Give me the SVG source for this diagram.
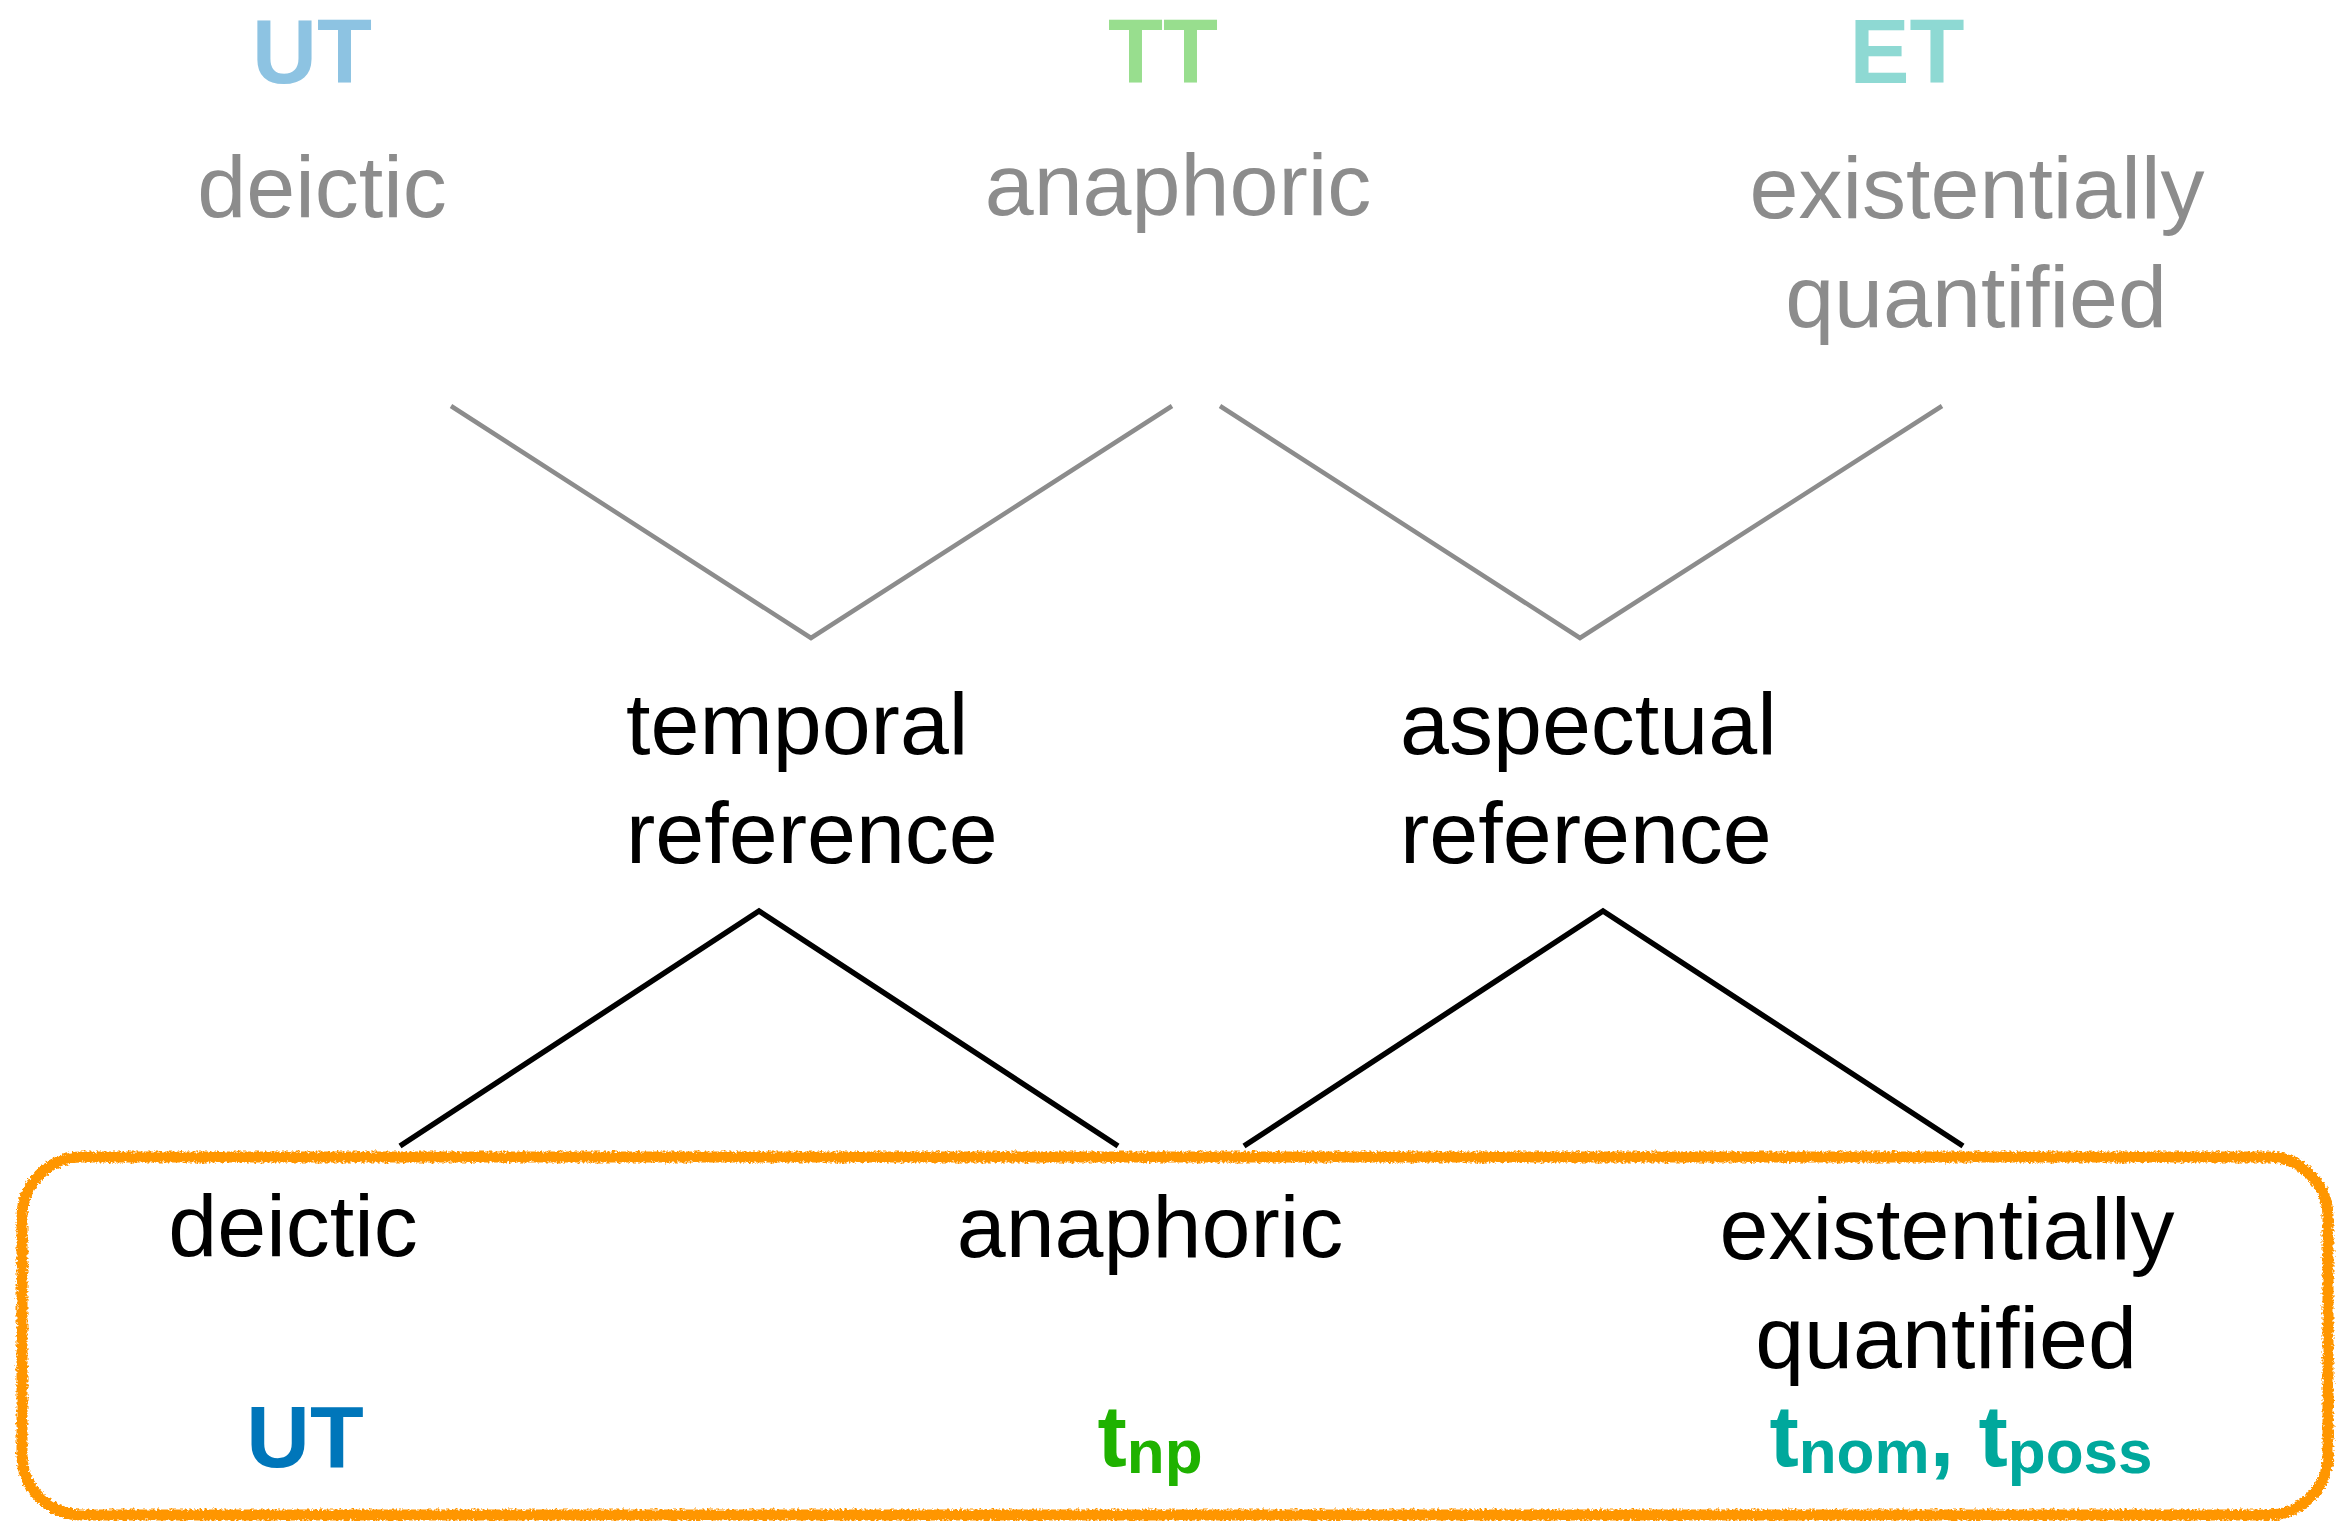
<svg xmlns="http://www.w3.org/2000/svg" width="2337" height="1521" viewBox="0 0 2337 1521">
<defs>
<style>
text{font-family:"Liberation Sans",Arial,Helvetica,sans-serif;font-size:88px}
.top{font-weight:bold;font-size:90px;text-anchor:middle}
.gray{fill:#8c8c8c;text-anchor:middle}
.blk{fill:#000}
.mid{text-anchor:middle}
.sym{font-weight:bold;text-anchor:middle}
.sub{font-size:62px}
.gl{stroke:#8c8c8c;stroke-width:4.5;fill:none;stroke-linejoin:miter}
.bl{stroke:#000;stroke-width:5.5;fill:none}
</style>
<filter id="rough" x="-2%" y="-5%" width="104%" height="110%">
<feTurbulence type="fractalNoise" baseFrequency="0.4" numOctaves="2" seed="3" result="n"/>
<feDisplacementMap in="SourceGraphic" in2="n" scale="6" xChannelSelector="R" yChannelSelector="G"/>
</filter>
</defs>
<rect width="2337" height="1521" fill="#fff"/>

<g id="connectors">
<polyline class="gl" points="451,406 811,638 1172,406"/>
<polyline class="gl" points="1220,406 1580,638 1942,406"/>
<polyline class="bl" points="400,1146 759,911 1118,1146"/>
<polyline class="bl" points="1244,1146 1603,911 1963,1146"/>
</g>

<g id="group-box">
<rect x="22" y="1157" width="2306" height="358" rx="60" ry="60" fill="none" stroke="#ff9600" stroke-width="11" filter="url(#rough)"/>
</g>

<g id="node-UT-top">
<text class="top" x="312" y="83" fill="#8dc3e2">UT</text>
<text class="gray" x="322" y="217">deictic</text>
</g>
<g id="node-TT-top">
<text class="top" x="1163" y="83" fill="#98de8e">TT</text>
<text class="gray" x="1178" y="215">anaphoric</text>
</g>
<g id="node-ET-top">
<text class="top" x="1907" y="83" fill="#8ed9d3">ET</text>
<text class="gray" x="1977" y="218">existentially</text>
<text class="gray" x="1976" y="327">quantified</text>
</g>

<g id="node-temporal">
<text class="blk" x="626" y="754">temporal</text>
<text class="blk" x="626" y="863">reference</text>
</g>
<g id="node-aspectual">
<text class="blk" x="1400" y="754">aspectual</text>
<text class="blk" x="1400" y="863">reference</text>
</g>

<g id="node-deictic">
<text class="blk mid" x="293" y="1256">deictic</text>
<text class="sym" x="305" y="1467" fill="#0076ba" font-size="90">UT</text>
</g>
<g id="node-anaphoric">
<text class="blk mid" x="1150" y="1257">anaphoric</text>
<text class="sym" x="1150" y="1466" fill="#1fb200">t<tspan class="sub" dy="7">np</tspan></text>
</g>
<g id="node-existential">
<text class="blk mid" x="1947" y="1259">existentially</text>
<text class="blk mid" x="1946" y="1368">quantified</text>
<text class="sym" x="1961" y="1466" fill="#00a89c">t<tspan class="sub" dy="7">nom</tspan><tspan dy="-7">, t</tspan><tspan class="sub" dy="7">poss</tspan></text>
</g>
</svg>
